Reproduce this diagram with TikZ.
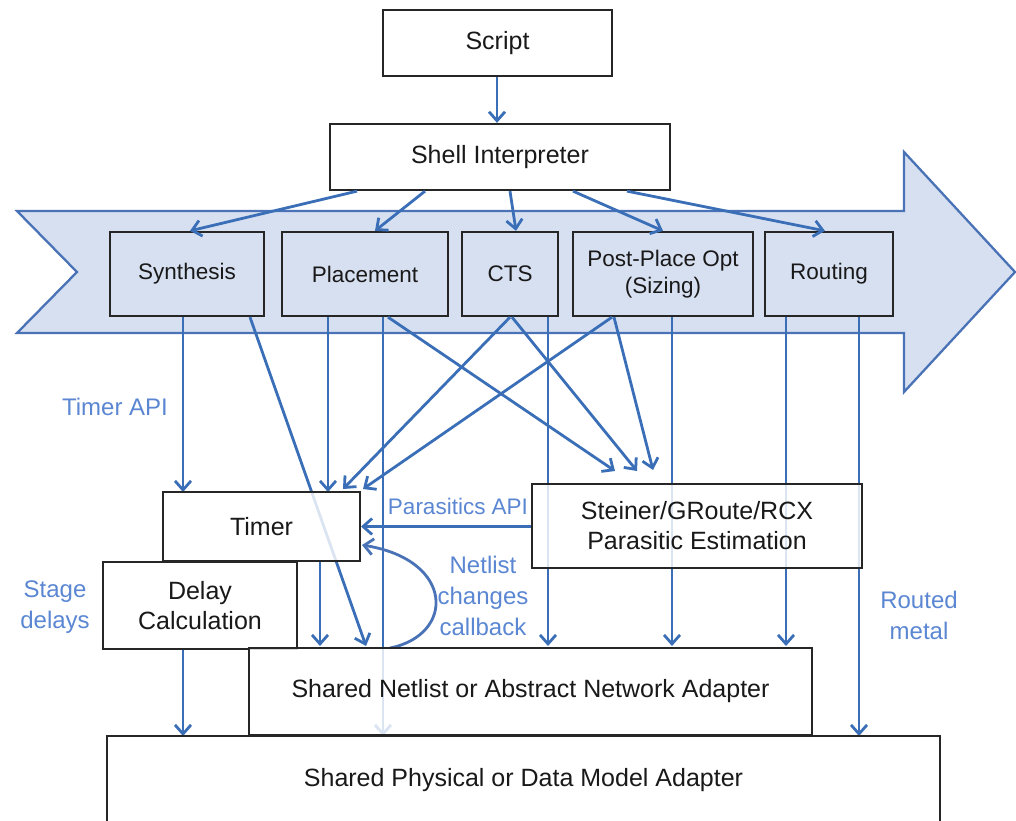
\documentclass[tikz,border=0pt]{standalone}
\usepackage{fontspec}
\setmainfont{Liberation Sans}
\usetikzlibrary{arrows.meta}
\definecolor{cblue}{HTML}{3A6FB8}
\definecolor{lblue}{HTML}{5A86D2}
\definecolor{afill}{HTML}{D7E0F1}
\definecolor{aedge}{HTML}{4A72B6}
\definecolor{bedge}{HTML}{262626}
\begin{document}
\begin{tikzpicture}[x=1pt,y=-1pt,
  box/.style={draw=bedge, line width=2.3pt, align=center, inner sep=0pt, text=black!90,
              font=\fontsize{25}{30}\selectfont},
  sbox/.style={box, fill=afill, minimum height=84pt, font=\fontsize{22.5}{27}\selectfont},
  wbox/.style={box, fill=white, fill opacity=0.82, text opacity=1},
  conn/.style={draw=cblue, line width=2.8pt, -{Straight Barb[length=9pt,width=16pt]}},
  lab/.style={text=lblue, align=center, inner sep=0pt, font=\fontsize{24}{31}\selectfont}]
\useasboundingbox (0,0) rectangle (1016,820);

% big process arrow
\path[fill=afill, draw=aedge, line width=2.3pt, line join=miter]
  (17,211) -- (904,211) -- (904,152) -- (1015,272) -- (904,392) -- (904,333)
  -- (17,333) -- (77,272) -- cycle;

% top boxes
\node[box, fill=white, minimum width=229pt, minimum height=66pt] (script) at (497.5,43) {Script};
\node[box, fill=white, minimum width=340pt, minimum height=66pt] (shell) at (500,157) {Shell Interpreter};

% stage boxes
\node[sbox, minimum width=154pt] (synth) at (187,274) {Synthesis};
\node[sbox, minimum width=166pt] (place) at (365,274) {Placement};
\node[sbox, minimum width=96pt]  (cts)   at (510,274) {CTS};
\node[sbox, minimum width=180pt] (ppo)   at (663,274) {Post-Place Opt\\(Sizing)};
\node[sbox, minimum width=128pt] (route) at (829,274) {Routing};

% target coordinates
\coordinate (sA) at (615,471);
\coordinate (sB) at (637,471);
\coordinate (sC) at (653,470);
\coordinate (tA) at (343,489);
\coordinate (tB) at (363,489);
\coordinate (cbS) at (390,648);
\coordinate (cbE) at (362,545);

% connectors (drawn before the lower boxes)
\draw[conn] (497,0 |- script.south) -- (497,0 |- shell.north);
\draw[conn] (357,0 |- shell.south) -- (190,0 |- synth.north);
\draw[conn] (425,0 |- shell.south) -- (375,0 |- place.north);
\draw[conn] (510,0 |- shell.south) -- (516,0 |- cts.north);
\draw[conn] (573,0 |- shell.south) -- (663,0 |- ppo.north);
\draw[conn] (627,0 |- shell.south) -- (825,0 |- route.north);

\draw[conn] (183,0 |- synth.south) -- (183,492);
\draw[conn] (250,0 |- synth.south) -- (366,646);
\draw[conn] (328,0 |- place.south) -- (328,492);
\draw[conn] (383,0 |- place.south) -- (383,736);
\draw[conn] (388,0 |- place.south) -- (sA);
\draw[conn] (510,0 |- cts.south) -- (tA);
\draw[conn] (512,0 |- cts.south) -- (sB);
\draw[conn] (548,0 |- cts.south) -- (548,646);
\draw[conn] (612,0 |- ppo.south) -- (tB);
\draw[conn] (614,0 |- ppo.south) -- (sC);
\draw[conn] (672,0 |- ppo.south) -- (672,646);
\draw[conn] (786,0 |- route.south) -- (786,646);
\draw[conn] (859,0 |- route.south) -- (859,736);
\draw[conn] (320,562) -- (320,646);
\draw[conn] (183,650) -- (183,736);
\draw[conn] (532,526.5) -- (361,526.5);
\draw[conn, draw=aedge] (cbS) .. controls (455,635) and (455,560) .. (cbE);

% lower boxes (semi-transparent white)
\node[wbox, minimum width=197pt, minimum height=69pt] (timer) at (261.5,526.5) {Timer};
\node[wbox, minimum width=194pt, minimum height=87pt] (delay) at (200,605.5) {Delay\\Calculation};
\node[wbox, minimum width=330pt, minimum height=84pt] (steiner) at (697,526) {Steiner/GRoute/RCX\\Parasitic Estimation};
\node[wbox, minimum width=563pt, minimum height=87pt] (netlist) at (530.5,691.5) {Shared Netlist or Abstract Network Adapter};
\node[wbox, minimum width=833pt, minimum height=88pt] (phys) at (523.5,780) {Shared Physical or Data Model Adapter};

% labels
\node[lab] (lTimerAPI) at (115,407) {Timer API};
\node[lab, font=\fontsize{22.5}{27}\selectfont] (lPar) at (458,506) {Parasitics API};
\node[lab] (lNet) at (483,596) {Netlist\\changes\\callback};
\node[lab] (lStage) at (55,607) {Stage\\delays};
\node[lab] (lRouted) at (919,615) {Routed\\metal};
\end{tikzpicture}
\end{document}
